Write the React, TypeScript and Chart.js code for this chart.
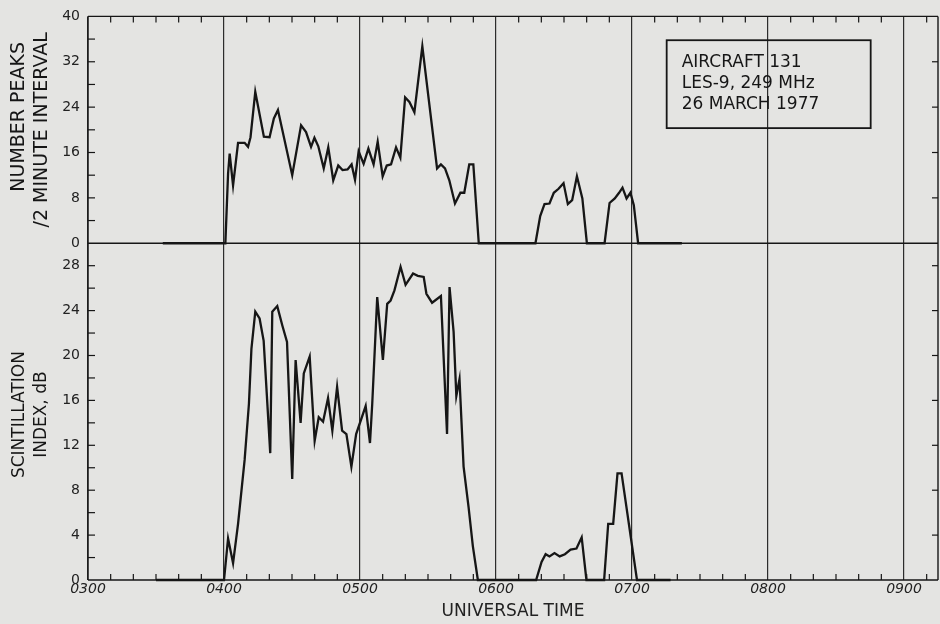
import { useEffect, useRef } from "react";
import { Chart, registerables } from "chart.js";

Chart.register(...registerables);

// Sample times in minutes after 0000 UT
const peakTimes = [
  213, 240.6, 241.8, 242.5, 244.0, 246.2, 249.1, 250.6, 251.7, 253.8, 257.6, 260.1, 262.0, 263.8,
  270.1, 274.0, 276.2, 278.4, 279.9, 281.6, 284.0, 286.0, 288.2, 290.4, 292.3, 294.5, 296.3,
  297.8, 299.4, 301.6, 303.7, 306.0, 307.8, 310.0, 311.8, 313.7, 315.9, 317.8, 319.9, 321.8,
  324.0, 327.5, 334.0, 335.7, 337.5, 339.4, 341.9, 344.3, 346.0, 348.2, 350.0, 352.4,
  377.4, 379.5, 381.4, 383.6, 385.5, 387.6, 389.8, 391.7, 393.6, 395.7, 398.1, 400.1,
  407.9, 410.1, 412.4, 414.3, 415.8, 417.6, 419.3, 420.8, 422.7, 442,
];
// Number of peaks per 2 minute interval
const peakCounts = [
  0, 0, 12.3, 15.8, 10.2, 17.7, 17.7, 17.0, 18.7, 26.7, 18.8, 18.7, 22.0, 23.5,
  12.0, 20.8, 19.6, 17.0, 18.6, 17.1, 13.2, 16.9, 11.1, 13.7, 12.9, 13.0, 13.9,
  11.2, 16.2, 14.0, 16.7, 13.9, 17.9, 11.8, 13.7, 13.9, 16.9, 15.1, 25.7, 24.9,
  23.1, 34.7, 13.2, 13.9, 13.2, 11.1, 7.0, 8.9, 8.9, 13.9, 13.9, 0,
  0, 4.8, 6.9, 7.0, 8.9, 9.6, 10.6, 6.9, 7.6, 11.8, 7.9, 0,
  0, 7.1, 7.9, 8.9, 9.8, 7.9, 8.9, 6.7, 0, 0,
];

const scintTimes = [
  210, 240.0, 241.8, 244.0, 246.2, 249.1, 251.0, 252.1, 253.8, 255.7, 257.5, 260.4, 261.3,
  263.5, 265.7, 267.8, 270.1, 271.6, 273.8, 275.2, 277.8, 280.0, 281.8, 283.7, 285.9,
  287.8, 289.9, 292.1, 294.0, 296.2, 298.3, 302.5, 304.4, 305.4, 307.6, 310.1, 312.0,
  313.5, 315.2, 317.9, 320.1, 323.4, 325.5, 328.1, 329.3, 331.8, 335.7, 338.4, 339.5,
  341.3, 342.5, 343.9, 345.7, 347.9, 349.8, 352.0,
  377.7, 380.1, 381.9, 383.6, 385.8, 388.1, 390.4, 392.9, 395.5, 397.8, 399.9,
  407.7, 409.5, 411.7, 413.6, 415.4, 422.2, 437,
];
// Scintillation index, dB
const scintIndexDb = [
  0, 0, 3.7, 1.5, 5.0, 10.7, 15.7, 20.6, 23.9, 23.3, 21.3, 11.3, 23.9,
  24.4, 22.7, 21.2, 9.0, 19.6, 14.0, 18.4, 19.9, 12.4, 14.5, 14.1, 16.2,
  13.3, 17.2, 13.3, 13.0, 10.1, 13.0, 15.5, 12.2, 15.7, 25.2, 19.6, 24.6,
  24.9, 25.8, 27.9, 26.3, 27.3, 27.1, 27.0, 25.5, 24.7, 25.3, 13.0, 26.1,
  22.1, 16.4, 17.9, 10.1, 6.5, 3.0, 0,
  0, 1.6, 2.3, 2.1, 2.4, 2.1, 2.3, 2.7, 2.8, 3.8, 0,
  0, 5.0, 5.0, 9.5, 9.5, 0, 0,
];

const hourLabels = ["0300", "0400", "0500", "0600", "0700", "0800", "0900"];
const peakTicks = [0, 8, 16, 24, 32, 40];
const scintTicks = [0, 4, 8, 12, 16, 20, 24, 28];
const peaksTitle = ["NUMBER PEAKS", "/2 MINUTE INTERVAL"];
const scintTitle = ["SCINTILLATION", "INDEX, dB"];
const timeTitle = "UNIVERSAL TIME";
const captionLines = ["AIRCRAFT 131", "LES-9, 249 MHz", "26 MARCH 1977"];

const PAPER = "#e4e4e2";
const INK = "#161616";
const GRID = "#2c2c2c";
const FONT = '"DejaVu Sans", sans-serif';

const T0 = 180; // 0300 UT
const T1 = 555; // 0915 UT

const framePlugin = {
  id: "frame",
  beforeDraw(chart: any) {
    const { ctx, width, height } = chart;
    ctx.save();
    ctx.fillStyle = PAPER;
    ctx.fillRect(0, 0, width, height);
    ctx.restore();
  },
  beforeDatasetsDraw(chart: any) {
    const { ctx, chartArea: a, scales } = chart;
    const x = scales.x;
    const yP = scales.yPeaks;
    const yS = scales.yScint;
    const seg = (x1: number, y1: number, x2: number, y2: number) => {
      ctx.beginPath();
      ctx.moveTo(x1, y1);
      ctx.lineTo(x2, y2);
      ctx.stroke();
    };
    ctx.save();
    ctx.strokeStyle = INK;
    ctx.lineWidth = 1.4;
    // outer frame and panel divider
    const mid = yP.getPixelForValue(0);
    seg(a.left, a.top, a.right, a.top);
    seg(a.left, mid, a.right, mid);
    seg(a.left, a.bottom, a.right, a.bottom);
    seg(a.left, a.top, a.left, a.bottom);
    seg(a.right, a.top, a.right, a.bottom);

    ctx.lineWidth = 1.2;
    // 10 minute ticks on top and bottom edges
    for (let t = T0 + 10; t < T1; t += 10) {
      if (t % 60 === 0) continue;
      const px = x.getPixelForValue(t);
      seg(px, a.top, px, a.top + 6);
      seg(px, a.bottom, px, a.bottom - 6);
    }
    // left ticks, labelled values and the halves between them
    for (let v = 4; v < 40; v += 4) {
      const py = yP.getPixelForValue(v);
      seg(a.left, py, a.left + 7, py);
    }
    for (let v = 2; v <= 28; v += 2) {
      const py = yS.getPixelForValue(v);
      seg(a.left, py, a.left + 7, py);
    }
    // right ticks at labelled values
    for (const v of peakTicks) {
      if (v === 0 || v === 40) continue;
      const py = yP.getPixelForValue(v);
      seg(a.right, py, a.right - 6, py);
    }
    for (const v of scintTicks) {
      if (v === 0) continue;
      const py = yS.getPixelForValue(v);
      seg(a.right, py, a.right - 6, py);
    }
    ctx.restore();
  },
  afterDraw(chart: any) {
    const { ctx, scales } = chart;
    const x = scales.x;
    const yP = scales.yPeaks;
    const yS = scales.yScint;
    ctx.save();
    ctx.strokeStyle = INK;
    // caption box
    const bx1 = x.getPixelForValue(435.3);
    const bx2 = x.getPixelForValue(525.3);
    const by1 = yP.getPixelForValue(35.8);
    const by2 = yP.getPixelForValue(20.3);
    ctx.lineWidth = 1.8;
    ctx.strokeRect(bx1, by1, bx2 - bx1, by2 - by1);
    ctx.fillStyle = INK;
    ctx.font = `17px ${FONT}`;
    ctx.textAlign = "left";
    ctx.textBaseline = "middle";
    captionLines.forEach((line, i) => {
      ctx.fillText(line, bx1 + 15, by1 + 22 + i * 21);
    });

    // rotated axis titles
    const drawRotated = (text: string, cx: number, cy: number, size: number) => {
      ctx.save();
      ctx.translate(cx, cy);
      ctx.rotate(-Math.PI / 2);
      ctx.font = `${size}px ${FONT}`;
      ctx.textAlign = "center";
      ctx.textBaseline = "middle";
      ctx.fillText(text, 0, 0);
      ctx.restore();
    };
    const pMid = (yP.top + yP.bottom) / 2;
    drawRotated(peaksTitle[0], 19, pMid - 13, 19);
    drawRotated(peaksTitle[1], 42, pMid, 19);
    const sMid = (yS.top + yS.bottom) / 2;
    drawRotated(scintTitle[0], 20, sMid + 3, 17);
    drawRotated(scintTitle[1], 42, sMid + 3, 17);
    ctx.restore();
  },
};

function toPoints(xs: number[], ys: number[]) {
  return xs.map((t, i) => ({ x: t, y: ys[i] }));
}

export default function App() {
  const canvasRef = useRef<HTMLCanvasElement | null>(null);

  useEffect(() => {
    const canvas = canvasRef.current;
    if (!canvas) return;
    const tickFont = { family: FONT, size: 14 };
    const chart = new Chart(canvas, {
      type: "line",
      data: {
        datasets: [
          {
            label: "Number peaks / 2 minute interval",
            data: toPoints(peakTimes, peakCounts),
            yAxisID: "yPeaks",
            borderColor: INK,
            borderWidth: 2.3,
            pointRadius: 0,
            tension: 0,
            clip: false,
          },
          {
            label: "Scintillation index, dB",
            data: toPoints(scintTimes, scintIndexDb),
            yAxisID: "yScint",
            borderColor: INK,
            borderWidth: 2.3,
            pointRadius: 0,
            tension: 0,
            clip: false,
          },
        ],
      },
      options: {
        responsive: false,
        animation: false,
        devicePixelRatio: 1,
        layout: { padding: { left: 0, top: 16, right: 2, bottom: 0 } },
        plugins: {
          legend: { display: false },
          tooltip: { enabled: false },
        },
        scales: {
          x: {
            type: "linear",
            min: T0,
            max: T1,
            afterFit: (s: any) => {
              s.height = 44;
            },
            afterBuildTicks: (s: any) => {
              s.ticks = hourLabels.map((_, i) => ({ value: T0 + 60 * i }));
            },
            ticks: {
              autoSkip: false,
              maxRotation: 0,
              padding: 1,
              color: "#222",
              font: { family: FONT, size: 14, style: "italic" },
              callback: (v: any) => hourLabels[Math.round((Number(v) - T0) / 60)] ?? "",
            },
            grid: { color: GRID, lineWidth: 1.2, drawTicks: false },
            border: { display: false },
            title: {
              display: true,
              text: timeTitle,
              color: "#222",
              font: { family: FONT, size: 17 },
              padding: { top: 0, bottom: 2 },
            },
          },
          // the lower panel is listed first so the layout stacks it beneath
          yScint: {
            type: "linear",
            position: "left",
            stack: "panels",
            stackWeight: 337,
            min: 0,
            max: 30,
            afterFit: (s: any) => {
              s.width = 88;
            },
            afterBuildTicks: (s: any) => {
              s.ticks = scintTicks.map((v) => ({ value: v }));
            },
            ticks: { padding: 8, color: "#222", font: tickFont },
            grid: { display: false, drawTicks: false },
            border: { display: false },
          },
          yPeaks: {
            type: "linear",
            position: "left",
            stack: "panels",
            stackWeight: 227,
            min: 0,
            max: 40,
            afterFit: (s: any) => {
              s.width = 88;
            },
            afterBuildTicks: (s: any) => {
              s.ticks = peakTicks.map((v) => ({ value: v }));
            },
            ticks: { padding: 8, color: "#222", font: tickFont },
            grid: { display: false, drawTicks: false },
            border: { display: false },
          },
        },
      },
      plugins: [framePlugin],
    } as any);
    return () => chart.destroy();
  }, []);

  return (
    <div style={{ position: "absolute", left: 0, top: 0, width: 940, height: 624, background: PAPER }}>
      <canvas ref={canvasRef} width={940} height={624} style={{ display: "block" }} />
    </div>
  );
}
